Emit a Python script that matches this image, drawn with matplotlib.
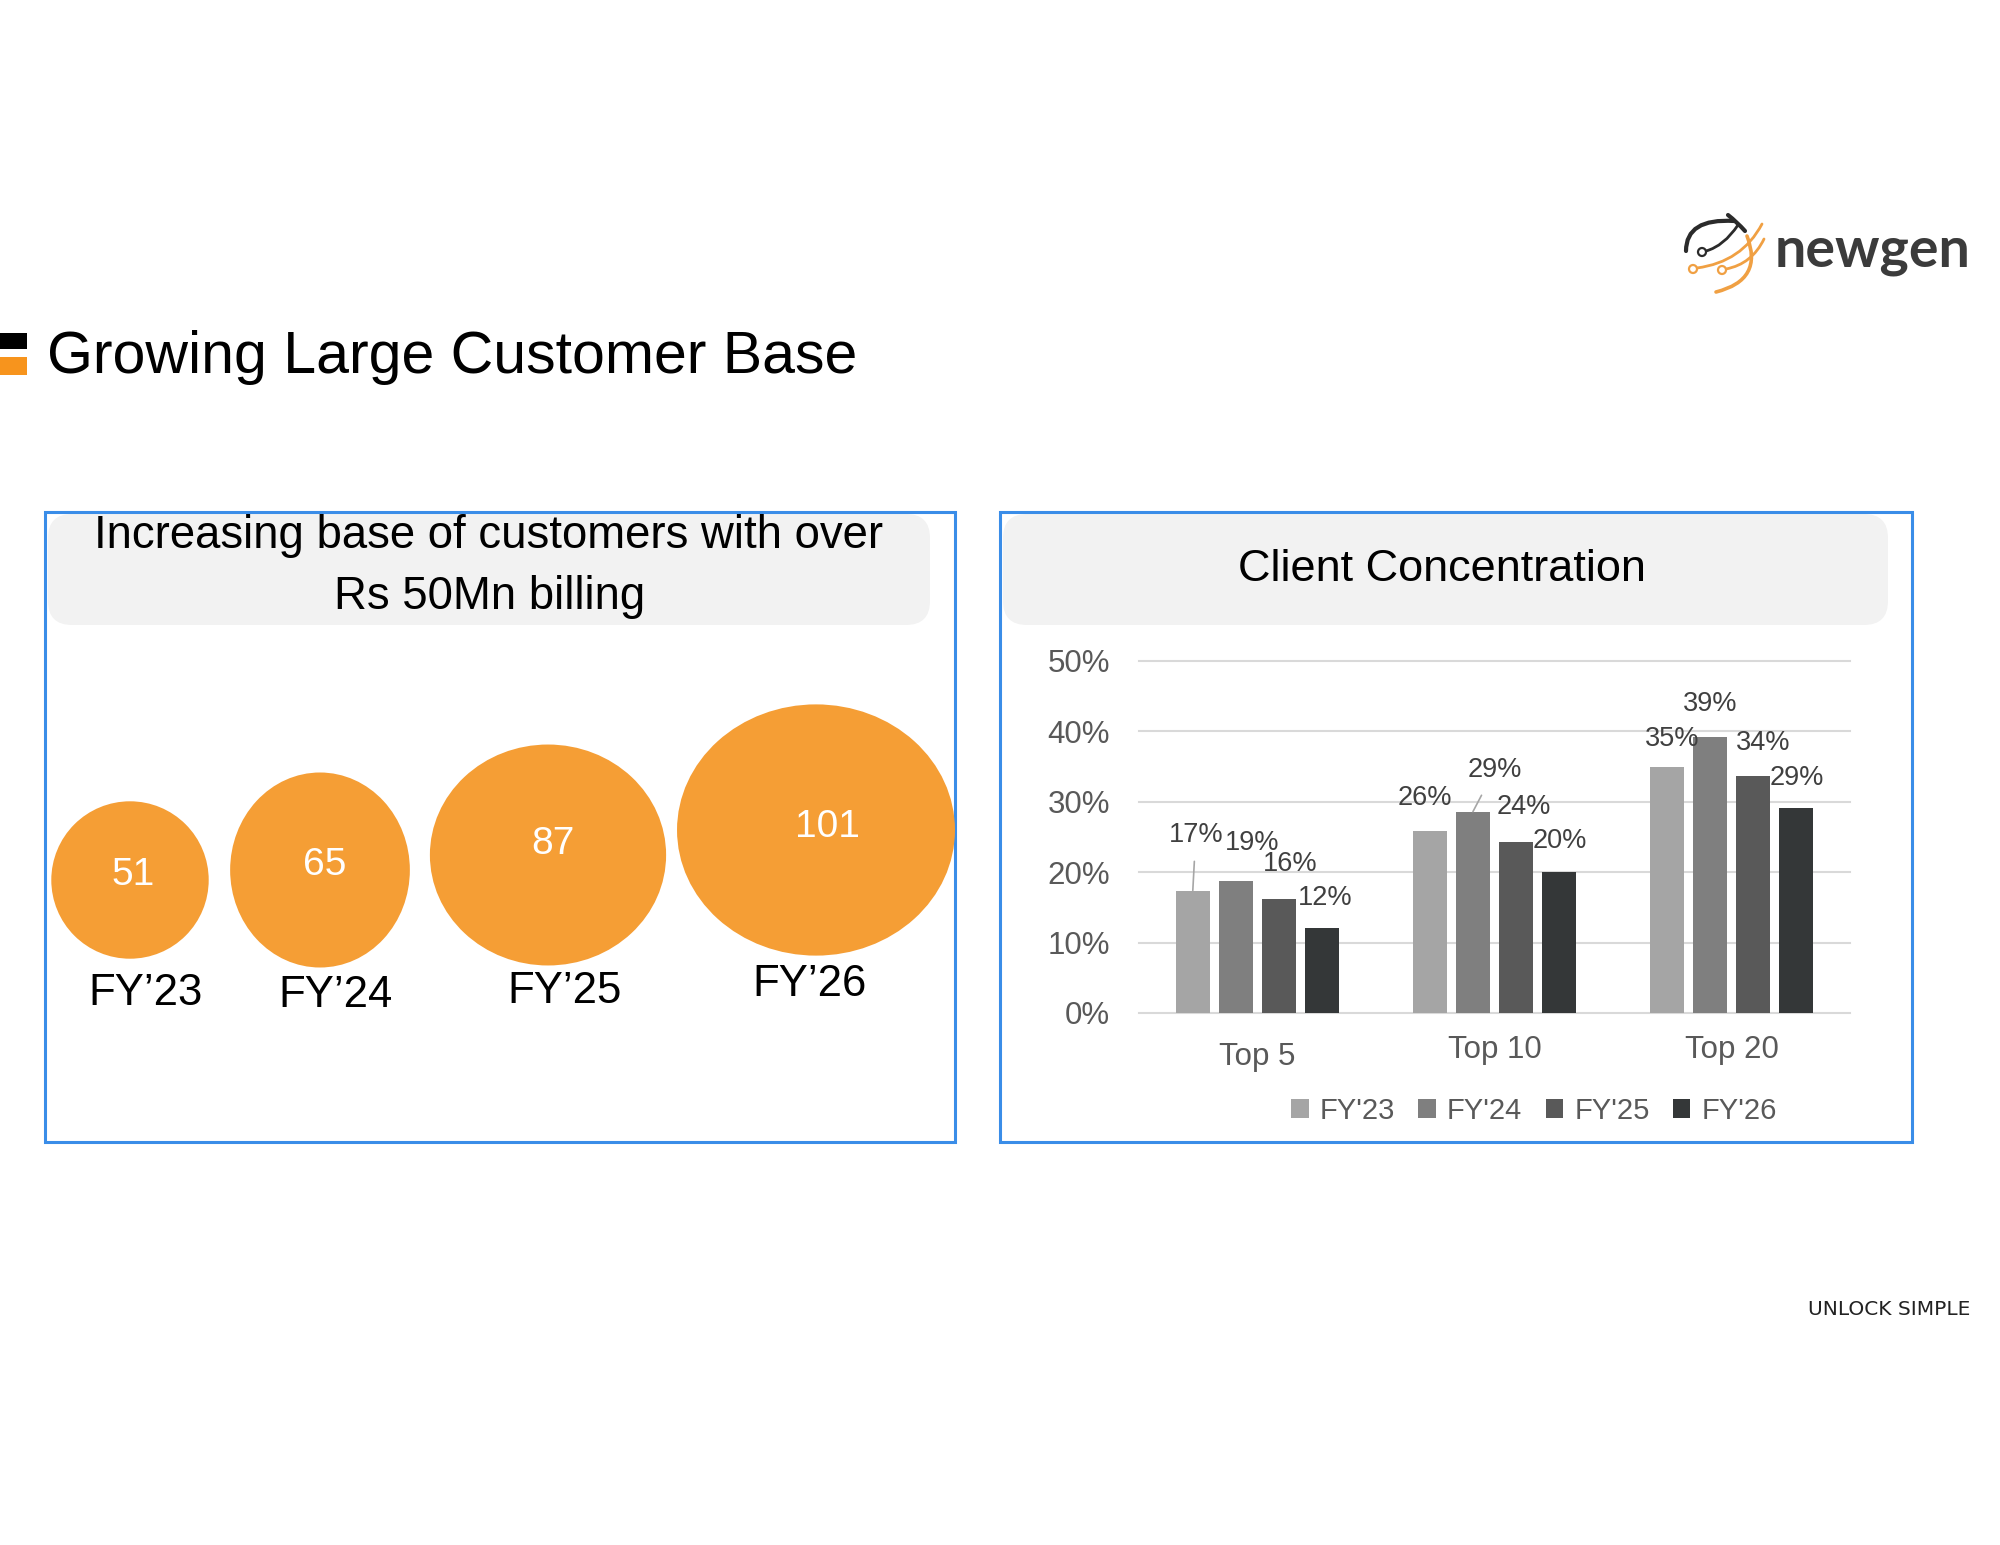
import numpy as np
import matplotlib
matplotlib.use("Agg")
import matplotlib.pyplot as plt
from matplotlib.patches import Ellipse, FancyBboxPatch, Rectangle, PathPatch, Circle
from matplotlib.path import Path
from matplotlib.transforms import ScaledTranslation

plt.rcParams['font.family'] = ['Liberation Sans', 'DejaVu Sans']

# ---- data ----
years = ["FY’23", "FY’24", "FY’25", "FY’26"]
customers = [51, 65, 87, 101]

groups = ["Top 5", "Top 10", "Top 20"]
legend_years = ["FY'23", "FY'24", "FY'25", "FY'26"]
share_fy23 = [17.4, 25.9, 35.0]
share_fy24 = [18.8, 28.6, 39.2]
share_fy25 = [16.2, 24.3, 33.7]
share_fy26 = [12.1, 20.0, 29.1]
yticks = [0, 10, 20, 30, 40, 50]

# ---- styles / layout ----
orange = '#F59E35'
bar_colors = ['#A5A5A5', '#7F7F7F', '#595959', '#343738']
blue = '#3A8DE8'
grey_box = '#F2F2F2'

W, H = 2000, 1545
fig = plt.figure(figsize=(20, 15.45), dpi=100)
bg = fig.add_axes([0, 0, 1, 1])
bg.set_xlim(0, W)
bg.set_ylim(H, 0)
bg.axis('off')

# header
bg.add_patch(Rectangle((0, 333), 27, 16, color='black', lw=0))
bg.add_patch(Rectangle((0, 357), 27, 18, color='#F7941D', lw=0))
bg.text(47, 373, "Growing Large Customer Base", fontsize=42.5, color='black',
        va='baseline', ha='left')


# logo
def curve(p0, c, p1, color, lw):
    path = Path([p0, c, p1], [Path.MOVETO, Path.CURVE3, Path.CURVE3])
    bg.add_patch(PathPatch(path, fill=False, edgecolor=color, lw=lw, capstyle='round'))


logo_dark = '#2B2B2B'
logo_or = '#F0A043'
curve((1686, 251), (1686, 218), (1734, 221), logo_dark, 3.0)
curve((1728, 215), (1737, 222), (1745, 231), logo_dark, 3.0)
curve((1738, 225), (1724, 246), (1706, 251), logo_dark, 2.0)
curve((1697, 268), (1742, 262), (1762, 224), logo_or, 2.0)
curve((1726, 269), (1752, 264), (1764, 239), logo_or, 2.0)
curve((1716, 292), (1764, 280), (1747, 236), logo_or, 2.6)
bg.add_patch(Circle((1702, 252), 4, facecolor='white', edgecolor=logo_dark, lw=1.6))
bg.add_patch(Circle((1693, 269), 4, facecolor='white', edgecolor=logo_or, lw=1.6))
bg.add_patch(Circle((1722, 270), 4, facecolor='white', edgecolor=logo_or, lw=1.6))
bg.text(1775, 267, "newgen", fontsize=40, fontweight='bold', color='#3B3B3B',
        family=['Lato', 'DejaVu Sans'], va='baseline', ha='left')
bg.text(1970, 1315, "UNLOCK SIMPLE", fontsize=14.5, color='#222222',
        family=['DejaVu Sans'], va='baseline', ha='right')

# panels
for x0, x1, gx1 in [(45, 955, 930), (1000, 1912, 1888)]:
    bg.add_patch(FancyBboxPatch((x0 + 3, 514), gx1 - x0 - 3, 111,
                                boxstyle="round,pad=0,rounding_size=24",
                                facecolor=grey_box, edgecolor='none'))
    bg.add_patch(Rectangle((x0, 512), x1 - x0, 630, fill=False,
                           edgecolor=blue, lw=2.2))

bg.text(489, 548, "Increasing base of customers with over", fontsize=32.8,
        ha='center', va='baseline', color='black')
bg.text(490, 609, "Rs 50Mn billing", fontsize=32.8, ha='center', va='baseline',
        color='black')
bg.text(1442, 581, "Client Concentration", fontsize=32.5, ha='center',
        va='baseline', color='black')

# bubbles: diameter grows with value
bub_cx = [130, 320, 548, 816]
bub_cy = [880, 870, 855, 830]
bub_sx = [0.99, 0.94, 0.99, 1.04]
bub_sy = [0.99, 1.02, 0.926, 0.94]
lab_dy = [-5, -5, -11, -3]
lab_dx = [3, 5, 5, 11]
fy_x = [146, 336, 565, 810]
fy_y = [1005, 1007, 1003, 996]
for i, v in enumerate(customers):
    d = 159 * (v / customers[0]) ** 0.76
    bg.add_patch(Ellipse((bub_cx[i], bub_cy[i]), d * bub_sx[i], d * bub_sy[i],
                         facecolor=orange, edgecolor='none'))
    bg.text(bub_cx[i] + lab_dx[i], bub_cy[i] + lab_dy[i], str(v), fontsize=28,
            color='white', ha='center', va='center')
    bg.text(fy_x[i], fy_y[i], years[i], fontsize=31.5, color='black',
            ha='center', va='baseline')

# ---- bar chart ----
ax = fig.add_axes([1139 / W, 1 - 1013 / H, 711 / W, 352 / H])
ax.patch.set_alpha(0)
series = [share_fy23, share_fy24, share_fy25, share_fy26]
x = np.arange(len(groups))
pitch, bw = 0.182, 0.141

# label offsets in pixels (dx, dy) per series / group
lbl_dx = [[3, -5, 5], [16, 22, 0], [11, 8, 10], [3, 1, 1]]
lbl_dy = [[56, 33, 28], [38, 42, 33], [35, 35, 33], [30, 31, 30]]
leader = [[True, False, False], [False, True, False], [False, False, False],
          [False, False, False]]

for j, vals in enumerate(series):
    xs = x + (j - 1.5) * pitch
    ax.bar(xs, vals, bw, color=bar_colors[j], label=legend_years[j], zorder=3)
    for k, v in enumerate(vals):
        arrow = None
        if leader[j][k]:
            arrow = dict(arrowstyle='-', color='#A6A6A6', lw=1.2,
                         shrinkA=8, shrinkB=0)
        ax.annotate(f"{round(v)}%", (xs[k], v), xytext=(lbl_dx[j][k], lbl_dy[j][k]),
                    textcoords='offset pixels', ha='center', va='center',
                    fontsize=19.5, color='#404040', arrowprops=arrow,
                    annotation_clip=False, zorder=4)

ax.set_xlim(-0.5, 2.5)
ax.set_ylim(0, 50)
ax.set_yticks(yticks)
ax.set_yticklabels([f"{t}%" for t in yticks])
ax.set_xticks(x)
ax.set_xticklabels(groups)
ax.tick_params(axis='y', length=0, pad=21, labelsize=22.5, labelcolor='#595959')
ax.tick_params(axis='x', length=0, pad=16, labelsize=22.5, labelcolor='#595959')
ax.get_xticklabels()[0].set_transform(
    ax.get_xticklabels()[0].get_transform() + ScaledTranslation(0, -7 / 100, fig.dpi_scale_trans))
for s in ax.spines.values():
    s.set_visible(False)
ax.yaxis.grid(True, color='#D9D9D9', lw=1.5, zorder=0)
for gl in ax.get_ygridlines():
    gl.set_clip_on(False)
ax.set_axisbelow(True)

leg = ax.legend(ncol=4, loc='center', bbox_to_anchor=(1534 / W, 1 - 1111 / H),
                bbox_transform=fig.transFigure, frameon=False, fontsize=21,
                handlelength=0.6, handleheight=0.6, handletextpad=0.38,
                columnspacing=0.8, borderpad=0)
for t in leg.get_texts():
    t.set_color('#595959')

fig.savefig('out.png', dpi=100)
